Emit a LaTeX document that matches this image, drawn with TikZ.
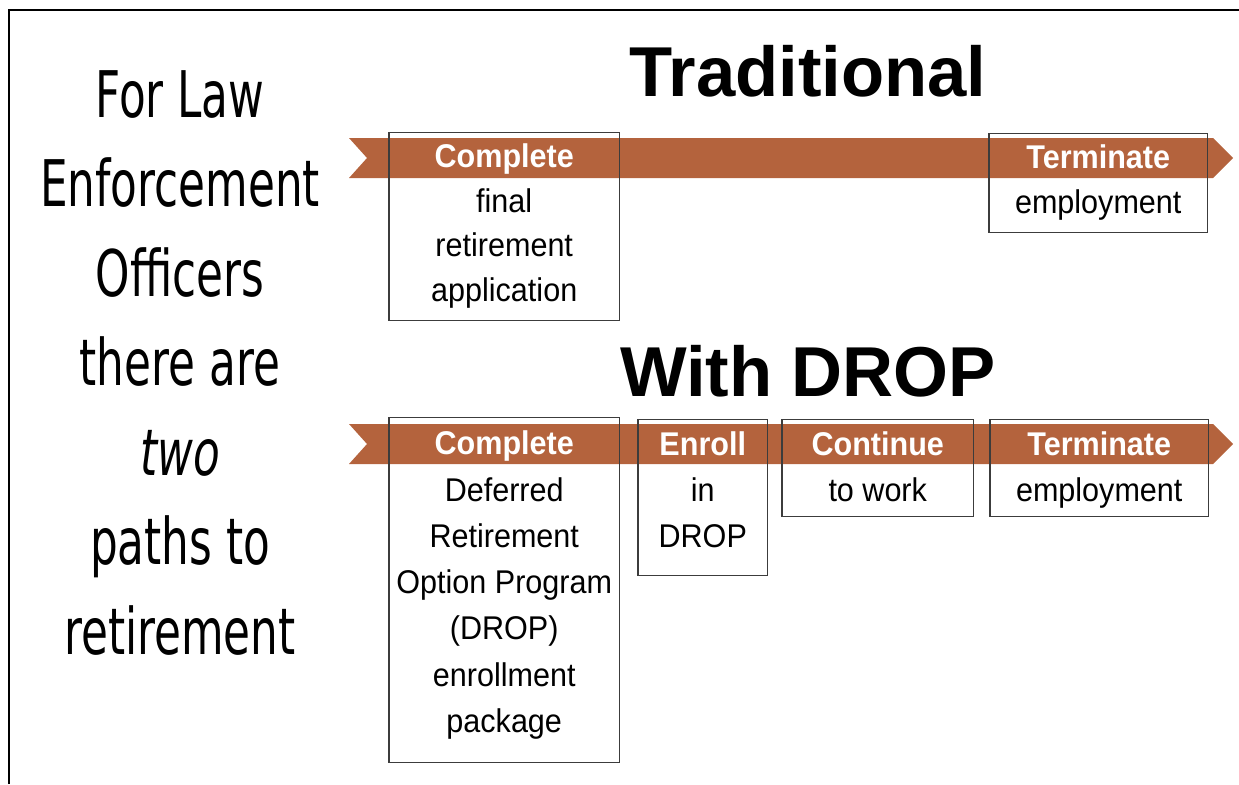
\documentclass[tikz,border=0pt]{standalone}
\usepackage{fontspec}
\setmainfont{Liberation Sans}[FakeStretch=0.93]
\newfontfamily\titlefont{Liberation Sans}
\newfontfamily\leftfont{DejaVu Sans}[FakeStretch=0.68]
\usepackage{tikz}

\definecolor{rust}{RGB}{180,99,61}
\definecolor{boxgray}{RGB}{60,60,60}
\newcommand{\hd}[1]{\strut\textcolor{white}{\bfseries #1}}

\tikzset{
  stepbox/.style={draw=boxgray, line width=0.85pt, inner sep=0pt, anchor=north west},
  boxtext/.style={anchor=north, inner sep=0pt, align=center, font=\fontsize{18.7}{26.3}\selectfont},
  lefttext/.style={anchor=base, inner sep=0pt, font=\leftfont\fontsize{36.6}{50}\selectfont},
  title/.style={anchor=base, inner sep=0pt, font=\titlefont\bfseries\fontsize{40.2}{48}\selectfont}
}

\begin{document}
\begin{tikzpicture}[x=0.02cm, y=-0.02cm]
\useasboundingbox (0,0) rectangle (1239,784);
\draw[line width=1.7pt] (9,784) -- (9,10) -- (1239,10);

% left column
\foreach \t [count=\i] in {For Law, Enforcement, Officers, there are, \textit{two}, paths to, retirement}
  \node[lefttext] (l\i) at (180, 117+89.5*\i-89.5) {\t};

% titles
\node[title] (trad) at (808,96) {Traditional};
\node[title] (drop) at (808,396) {With DROP};

% the two bands
\foreach \y in {0,286}
  \fill[rust] (349,138+\y) -- (1213,138+\y) -- (1233,158+\y) -- (1213,178+\y) -- (349,178+\y) -- (367,158+\y) -- cycle;

% traditional path
\node[stepbox, minimum width=4.62cm, minimum height=3.76cm] (A) at (388,132) {};
\node[stepbox, minimum width=4.38cm, minimum height=1.98cm] (B) at (988,133) {};
\node[boxtext, font=\fontsize{18.7}{25.5}\selectfont] (a) at ([yshift=-2pt]A.north) {\hd{Complete}\\final\\retirement\\application};
\node[boxtext, font=\fontsize{18.7}{25.5}\selectfont] (b) at ([yshift=-2pt]B.north) {\hd{Terminate}\\employment};

% DROP path
\node[stepbox, minimum width=4.62cm, minimum height=6.90cm] (C) at (388,417) {};
\node[stepbox, minimum width=2.60cm, minimum height=3.12cm] (D) at (637,419) {};
\node[stepbox, minimum width=3.84cm, minimum height=1.94cm] (E) at (781,419) {};
\node[stepbox, minimum width=4.38cm, minimum height=1.94cm] (F) at (989,419) {};
\node[boxtext] (c) at ([yshift=-3pt]C.north) {\hd{Complete}\\Deferred\\Retirement\\Option Program\\(DROP)\\enrollment\\package};
\node[boxtext] (d) at ([yshift=-2.2pt]D.north) {\hd{Enroll}\\in\\DROP};
\node[boxtext] (e) at ([yshift=-2.2pt]E.north) {\hd{Continue}\\to work};
\node[boxtext] (f) at ([yshift=-2.2pt]F.north) {\hd{Terminate}\\employment};
\end{tikzpicture}
\end{document}
